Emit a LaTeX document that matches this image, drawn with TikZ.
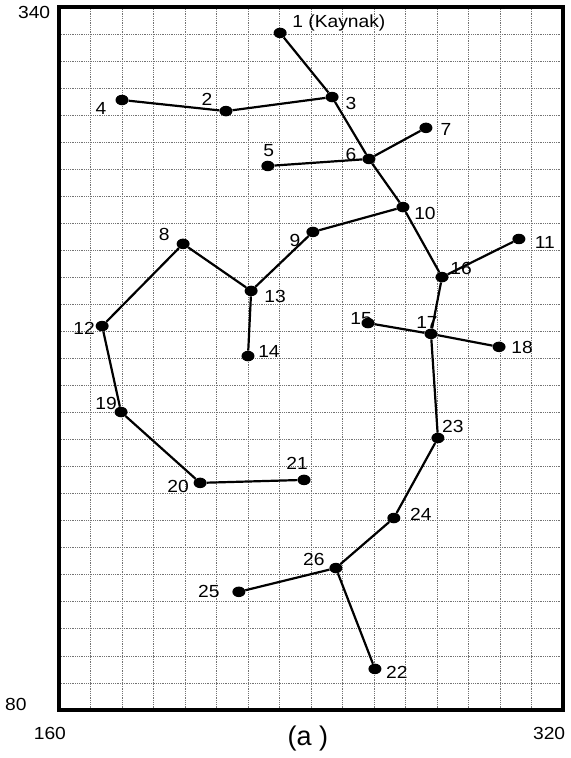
\documentclass[tikz,border=0pt]{standalone}
\usepackage{fontspec}
\setmainfont{Liberation Sans}
\newfontfamily\lblfont[FakeStretch=1.1]{Liberation Sans}
\usetikzlibrary{shapes.geometric}

\begin{document}
\begin{tikzpicture}[
    x=3.15pt, y=2.704pt,
    dot/.style={ellipse,fill=black,minimum width=13pt,minimum height=10.5pt,inner sep=0pt},
    lbl/.style={font=\lblfont\fontsize{17.5}{19}\selectfont,inner sep=0pt},
    pipe/.style={line width=2.2pt},
    gridline/.style={black!55,densely dotted,line width=0.8pt},
    frame/.style={line width=4.5pt}
  ]
    \useasboundingbox (141.27,62.25) rectangle (322.54,342.59);
    % grid and frame
    \foreach \x in {170,180,...,310} \draw[gridline] (\x,80) -- (\x,340);
    \foreach \y in {90,100,...,330} \draw[gridline] (160,\y) -- (320,\y);
    \draw[frame] (160,80) rectangle (320,340);
    \node[lbl] (t340) at (152.1,337.8) {340};
    \node[lbl] (t80) at (146.3,82.2) {80};
    \node[lbl] (t160) at (157.1,71.5) {160};
    \node[lbl] (t320) at (315.6,71.5) {320};
    \node[lbl,font=\fontsize{27}{30}\selectfont] (cap) at (239.0,69.6) {(a )};
    % junctions
    \node[dot] (n1) at (230.2,330.4) {};
    \node[dot] (n2) at (213.0,301.5) {};
    \node[dot] (n3) at (246.7,306.7) {};
    \node[dot] (n4) at (180.0,305.6) {};
    \node[dot] (n5) at (226.3,281.2) {};
    \node[dot] (n6) at (258.4,283.8) {};
    \node[dot] (n7) at (276.5,295.3) {};
    \node[dot] (n8) at (199.4,252.4) {};
    \node[dot] (n9) at (240.6,256.8) {};
    \node[dot] (n10) at (269.2,266.0) {};
    \node[dot] (n11) at (306.0,254.2) {};
    \node[dot] (n12) at (173.7,222.0) {};
    \node[dot] (n13) at (221.0,235.0) {};
    \node[dot] (n14) at (220.0,210.9) {};
    \node[dot] (n15) at (258.1,223.1) {};
    \node[dot] (n16) at (281.6,240.1) {};
    \node[dot] (n17) at (278.1,219.1) {};
    \node[dot] (n18) at (299.7,214.3) {};
    \node[dot] (n19) at (179.7,190.2) {};
    \node[dot] (n20) at (204.8,164.0) {};
    \node[dot] (n21) at (237.8,165.1) {};
    \node[dot] (n22) at (260.3,95.2) {};
    \node[dot] (n23) at (280.3,180.6) {};
    \node[dot] (n24) at (266.3,151.0) {};
    \node[dot] (n25) at (217.1,123.7) {};
    \node[dot] (n26) at (247.9,132.5) {};
    % pipes
    \draw[pipe] (n1) -- (n3);
    \draw[pipe] (n4) -- (n2);
    \draw[pipe] (n2) -- (n3);
    \draw[pipe] (n3) -- (n6);
    \draw[pipe] (n5) -- (n6);
    \draw[pipe] (n6) -- (n7);
    \draw[pipe] (n6) -- (n10);
    \draw[pipe] (n10) -- (n9);
    \draw[pipe] (n9) -- (n13);
    \draw[pipe] (n13) -- (n8);
    \draw[pipe] (n8) -- (n12);
    \draw[pipe] (n12) -- (n19);
    \draw[pipe] (n19) -- (n20);
    \draw[pipe] (n20) -- (n21);
    \draw[pipe] (n13) -- (n14);
    \draw[pipe] (n10) -- (n16);
    \draw[pipe] (n16) -- (n11);
    \draw[pipe] (n16) -- (n17);
    \draw[pipe] (n15) -- (n17);
    \draw[pipe] (n17) -- (n18);
    \draw[pipe] (n17) -- (n23);
    \draw[pipe] (n23) -- (n24);
    \draw[pipe] (n24) -- (n26);
    \draw[pipe] (n26) -- (n25);
    \draw[pipe] (n26) -- (n22);
    % labels
    \node[lbl,anchor=west,xshift=12pt,yshift=10pt] (l1) at (n1) {1 (Kaynak)};
    \node[lbl,xshift=-19pt,yshift=12pt] (l2) at (n2) {2};
    \node[lbl,xshift=19pt,yshift=-6pt] (l3) at (n3) {3};
    \node[lbl,xshift=-21pt,yshift=-8pt] (l4) at (n4) {4};
    \node[lbl,xshift=1pt,yshift=15pt] (l5) at (n5) {5};
    \node[lbl,xshift=-18pt,yshift=4pt] (l6) at (n6) {6};
    \node[lbl,xshift=20pt,yshift=-2pt] (l7) at (n7) {7};
    \node[lbl,xshift=-19pt,yshift=9pt] (l8) at (n8) {8};
    \node[lbl,xshift=-18pt,yshift=-9pt] (l9) at (n9) {9};
    \node[lbl,xshift=22pt,yshift=-6pt] (l10) at (n10) {10};
    \node[lbl,xshift=26pt,yshift=-3pt] (l11) at (n11) {11};
    \node[lbl,xshift=-18pt,yshift=-2pt] (l12) at (n12) {12};
    \node[lbl,xshift=24pt,yshift=-6pt] (l13) at (n13) {13};
    \node[lbl,xshift=21pt,yshift=5pt] (l14) at (n14) {14};
    \node[lbl,xshift=-7pt,yshift=5pt] (l15) at (n15) {15};
    \node[lbl,xshift=19pt,yshift=9pt] (l16) at (n16) {16};
    \node[lbl,xshift=-4pt,yshift=11pt] (l17) at (n17) {17};
    \node[lbl,xshift=23pt,yshift=-1pt] (l18) at (n18) {18};
    \node[lbl,xshift=-15pt,yshift=9pt] (l19) at (n19) {19};
    \node[lbl,xshift=-22pt,yshift=-4pt] (l20) at (n20) {20};
    \node[lbl,xshift=-7pt,yshift=17pt] (l21) at (n21) {21};
    \node[lbl,xshift=22pt,yshift=-3pt] (l22) at (n22) {22};
    \node[lbl,xshift=15pt,yshift=12pt] (l23) at (n23) {23};
    \node[lbl,xshift=27pt,yshift=4pt] (l24) at (n24) {24};
    \node[lbl,xshift=-30pt,yshift=0pt] (l25) at (n25) {25};
    \node[lbl,xshift=-22pt,yshift=9pt] (l26) at (n26) {26};
  \end{tikzpicture}
\end{document}
